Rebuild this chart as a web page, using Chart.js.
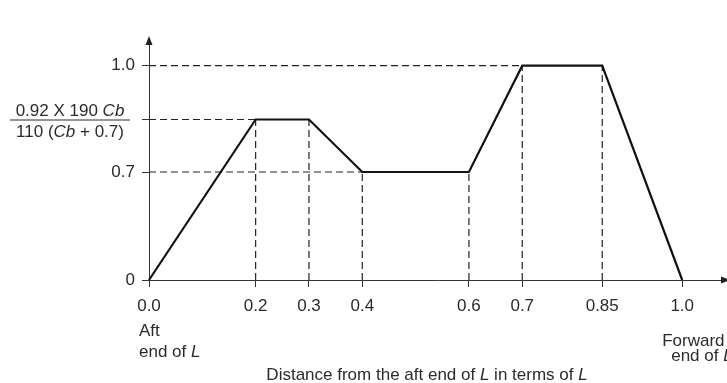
<!DOCTYPE html>
<html>
<head>
<meta charset="utf-8">
<script src="https://cdn.jsdelivr.net/npm/chart.js@4/dist/chart.umd.min.js"></script>
<style>
  html, body { margin: 0; padding: 0; background: #fff; }
  canvas { display: block; }
</style>
</head>
<body>
<canvas id="grafica" width="727" height="383"></canvas>
<script>
// profile of the factor along the ship length (fraction of L)
const xPos = [0, 0.2, 0.3, 0.4, 0.6, 0.7, 0.85, 1.0];
const factor = [0, 0.85, 0.85, 0.7, 0.7, 1.0, 1.0, 0];

const xTicks = [0, 0.2, 0.3, 0.4, 0.6, 0.7, 0.85, 1.0];
const xTickLabels = ['0.0', '0.2', '0.3', '0.4', '0.6', '0.7', '0.85', '1.0'];
const yTicks = [0, 0.7, 0.85, 1.0];
const yTickLabels = ['0', '0.7', '', '1.0'];

const FONT = '"Liberation Sans", Arial, sans-serif';
const TXT = '#2b2b2b';

// the vertical axis is not to scale in the drawing: 0.7 sits about half way up
const yBreaks = [0, 0.7, 0.85, 1.0];
const yWarp = [0, 0.504, 0.749, 1.0];

function interp(v, from, to) {
  if (v <= from[0]) return v;
  for (let i = 1; i < from.length; i++) {
    if (v <= from[i]) {
      const t = (v - from[i - 1]) / (from[i] - from[i - 1]);
      return to[i - 1] + t * (to[i] - to[i - 1]);
    }
  }
  return v - from[from.length - 1] + to[to.length - 1];
}

class SchematicScale extends Chart.LinearScale {
  static id = 'schematic';
  static defaults = Chart.LinearScale.defaults;
  getPixelForValue(v) {
    return super.getPixelForValue(interp(v, yBreaks, yWarp));
  }
  getValueForPixel(p) {
    return interp(super.getValueForPixel(p), yWarp, yBreaks);
  }
}
Chart.register(SchematicScale);

// dashed guides from every corner to the axes
const guides = [];
xPos.forEach((x, i) => {
  if (x > 0 && x < 1) guides.push([{ x: x, y: 0 }, { x: x, y: factor[i] }]);
});
yTicks.forEach(lvl => {
  if (lvl === 0) return;
  const i = factor.indexOf(lvl);
  guides.push([{ x: 0, y: lvl }, { x: xPos[i], y: lvl }]);
});

function richText(ctx, parts, x, y, align) {
  let w = 0;
  parts.forEach(p => {
    ctx.font = (p.i ? 'italic ' : '') + '17px ' + FONT;
    w += ctx.measureText(p.t).width;
  });
  let cx = align === 'center' ? x - w / 2 : (align === 'right' ? x - w : x);
  parts.forEach(p => {
    ctx.font = (p.i ? 'italic ' : '') + '17px ' + FONT;
    ctx.fillText(p.t, cx, y);
    cx += ctx.measureText(p.t).width;
  });
  return w;
}

const extras = {
  id: 'extras',
  afterDraw(chart) {
    const ctx = chart.ctx;
    const xs = chart.scales.x, ys = chart.scales.y;
    const ax = xs.getPixelForValue(0);
    const ay = ys.getPixelForValue(0);
    ctx.save();
    ctx.fillStyle = '#222';
    // arrow heads
    ctx.beginPath();
    ctx.moveTo(ax, chart.chartArea.top - 4);
    ctx.lineTo(ax - 3.5, chart.chartArea.top + 5);
    ctx.lineTo(ax + 3.5, chart.chartArea.top + 5);
    ctx.fill();
    ctx.beginPath();
    ctx.moveTo(chart.chartArea.right + 3, ay);
    ctx.lineTo(chart.chartArea.right - 6, ay - 3.5);
    ctx.lineTo(chart.chartArea.right - 6, ay + 3.5);
    ctx.fill();

    // formula label for the middle level
    ctx.fillStyle = TXT;
    ctx.textBaseline = 'alphabetic';
    const fy = ys.getPixelForValue(0.85);
    const cx = 70;
    const top = [{ t: '0.92 X 190 ' }, { t: 'Cb', i: true }];
    const bot = [{ t: '110 (' }, { t: 'Cb', i: true }, { t: ' + 0.7)' }];
    richText(ctx, top, cx, fy - 4, 'center');
    richText(ctx, bot, cx, fy + 17, 'center');
    ctx.strokeStyle = TXT;
    ctx.lineWidth = 1;
    ctx.beginPath();
    ctx.moveTo(10, fy + 0.5);
    ctx.lineTo(130, fy + 0.5);
    ctx.stroke();

    // ends of L under the x axis
    const x0 = xs.getPixelForValue(0), x1 = xs.getPixelForValue(1);
    richText(ctx, [{ t: 'Aft' }], x0 - 10, 336, 'left');
    richText(ctx, [{ t: 'end of ' }, { t: 'L', i: true }], x0 - 10, 357, 'left');
    richText(ctx, [{ t: 'Forward' }], x1 - 20, 346, 'left');
    richText(ctx, [{ t: 'end of ' }, { t: 'L', i: true }], x1 - 11, 361, 'left');

    // axis title
    richText(ctx, [
      { t: 'Distance from the aft end of ' }, { t: 'L', i: true },
      { t: ' in terms of ' }, { t: 'L', i: true }
    ], (chart.chartArea.left + chart.chartArea.right) / 2 - 11, 380, 'center');
    ctx.restore();
  }
};

const datasets = [{
  data: xPos.map((x, i) => ({ x: x, y: factor[i] })),
  borderColor: '#111',
  borderWidth: 2.2,
  pointRadius: 0,
  order: 0,
  clip: false
}];
guides.forEach(g => datasets.push({
  data: g,
  borderColor: '#222',
  borderWidth: 1.2,
  borderDash: [7, 4],
  pointRadius: 0,
  order: 1,
  clip: false
}));

new Chart(document.getElementById('grafica'), {
  type: 'line',
  data: { datasets: datasets },
  plugins: [extras],
  options: {
    responsive: false,
    devicePixelRatio: 1,
    animation: false,
    layout: { padding: { top: 40, right: 0, left: 0, bottom: 0 } },
    plugins: { legend: { display: false }, tooltip: { enabled: false } },
    scales: {
      x: {
        type: 'linear',
        min: 0,
        max: 1.084,
        afterBuildTicks: s => { s.ticks = xTicks.map(v => ({ value: v })); },
        afterFit: s => { s.height = 103; },
        ticks: {
          autoSkip: false,
          maxRotation: 0,
          padding: 9,
          color: TXT,
          font: { family: FONT, size: 17 },
          callback: (v, i) => xTickLabels[i]
        },
        grid: { drawOnChartArea: false, drawTicks: true, tickLength: 7, color: '#333', lineWidth: 1 },
        border: { display: true, color: '#333', width: 1 }
      },
      y: {
        type: 'schematic',
        min: 0,
        max: 1.12,
        afterBuildTicks: s => { s.ticks = yTicks.map(v => ({ value: v })); },
        afterFit: s => { s.width = 149; },
        ticks: {
          autoSkip: false,
          padding: 7,
          color: TXT,
          font: { family: FONT, size: 17 },
          callback: (v, i) => yTickLabels[i]
        },
        grid: { drawOnChartArea: false, drawTicks: true, tickLength: 7, color: '#333', lineWidth: 1 },
        border: { display: true, color: '#333', width: 1 }
      }
    }
  }
});
</script>
</body>
</html>
